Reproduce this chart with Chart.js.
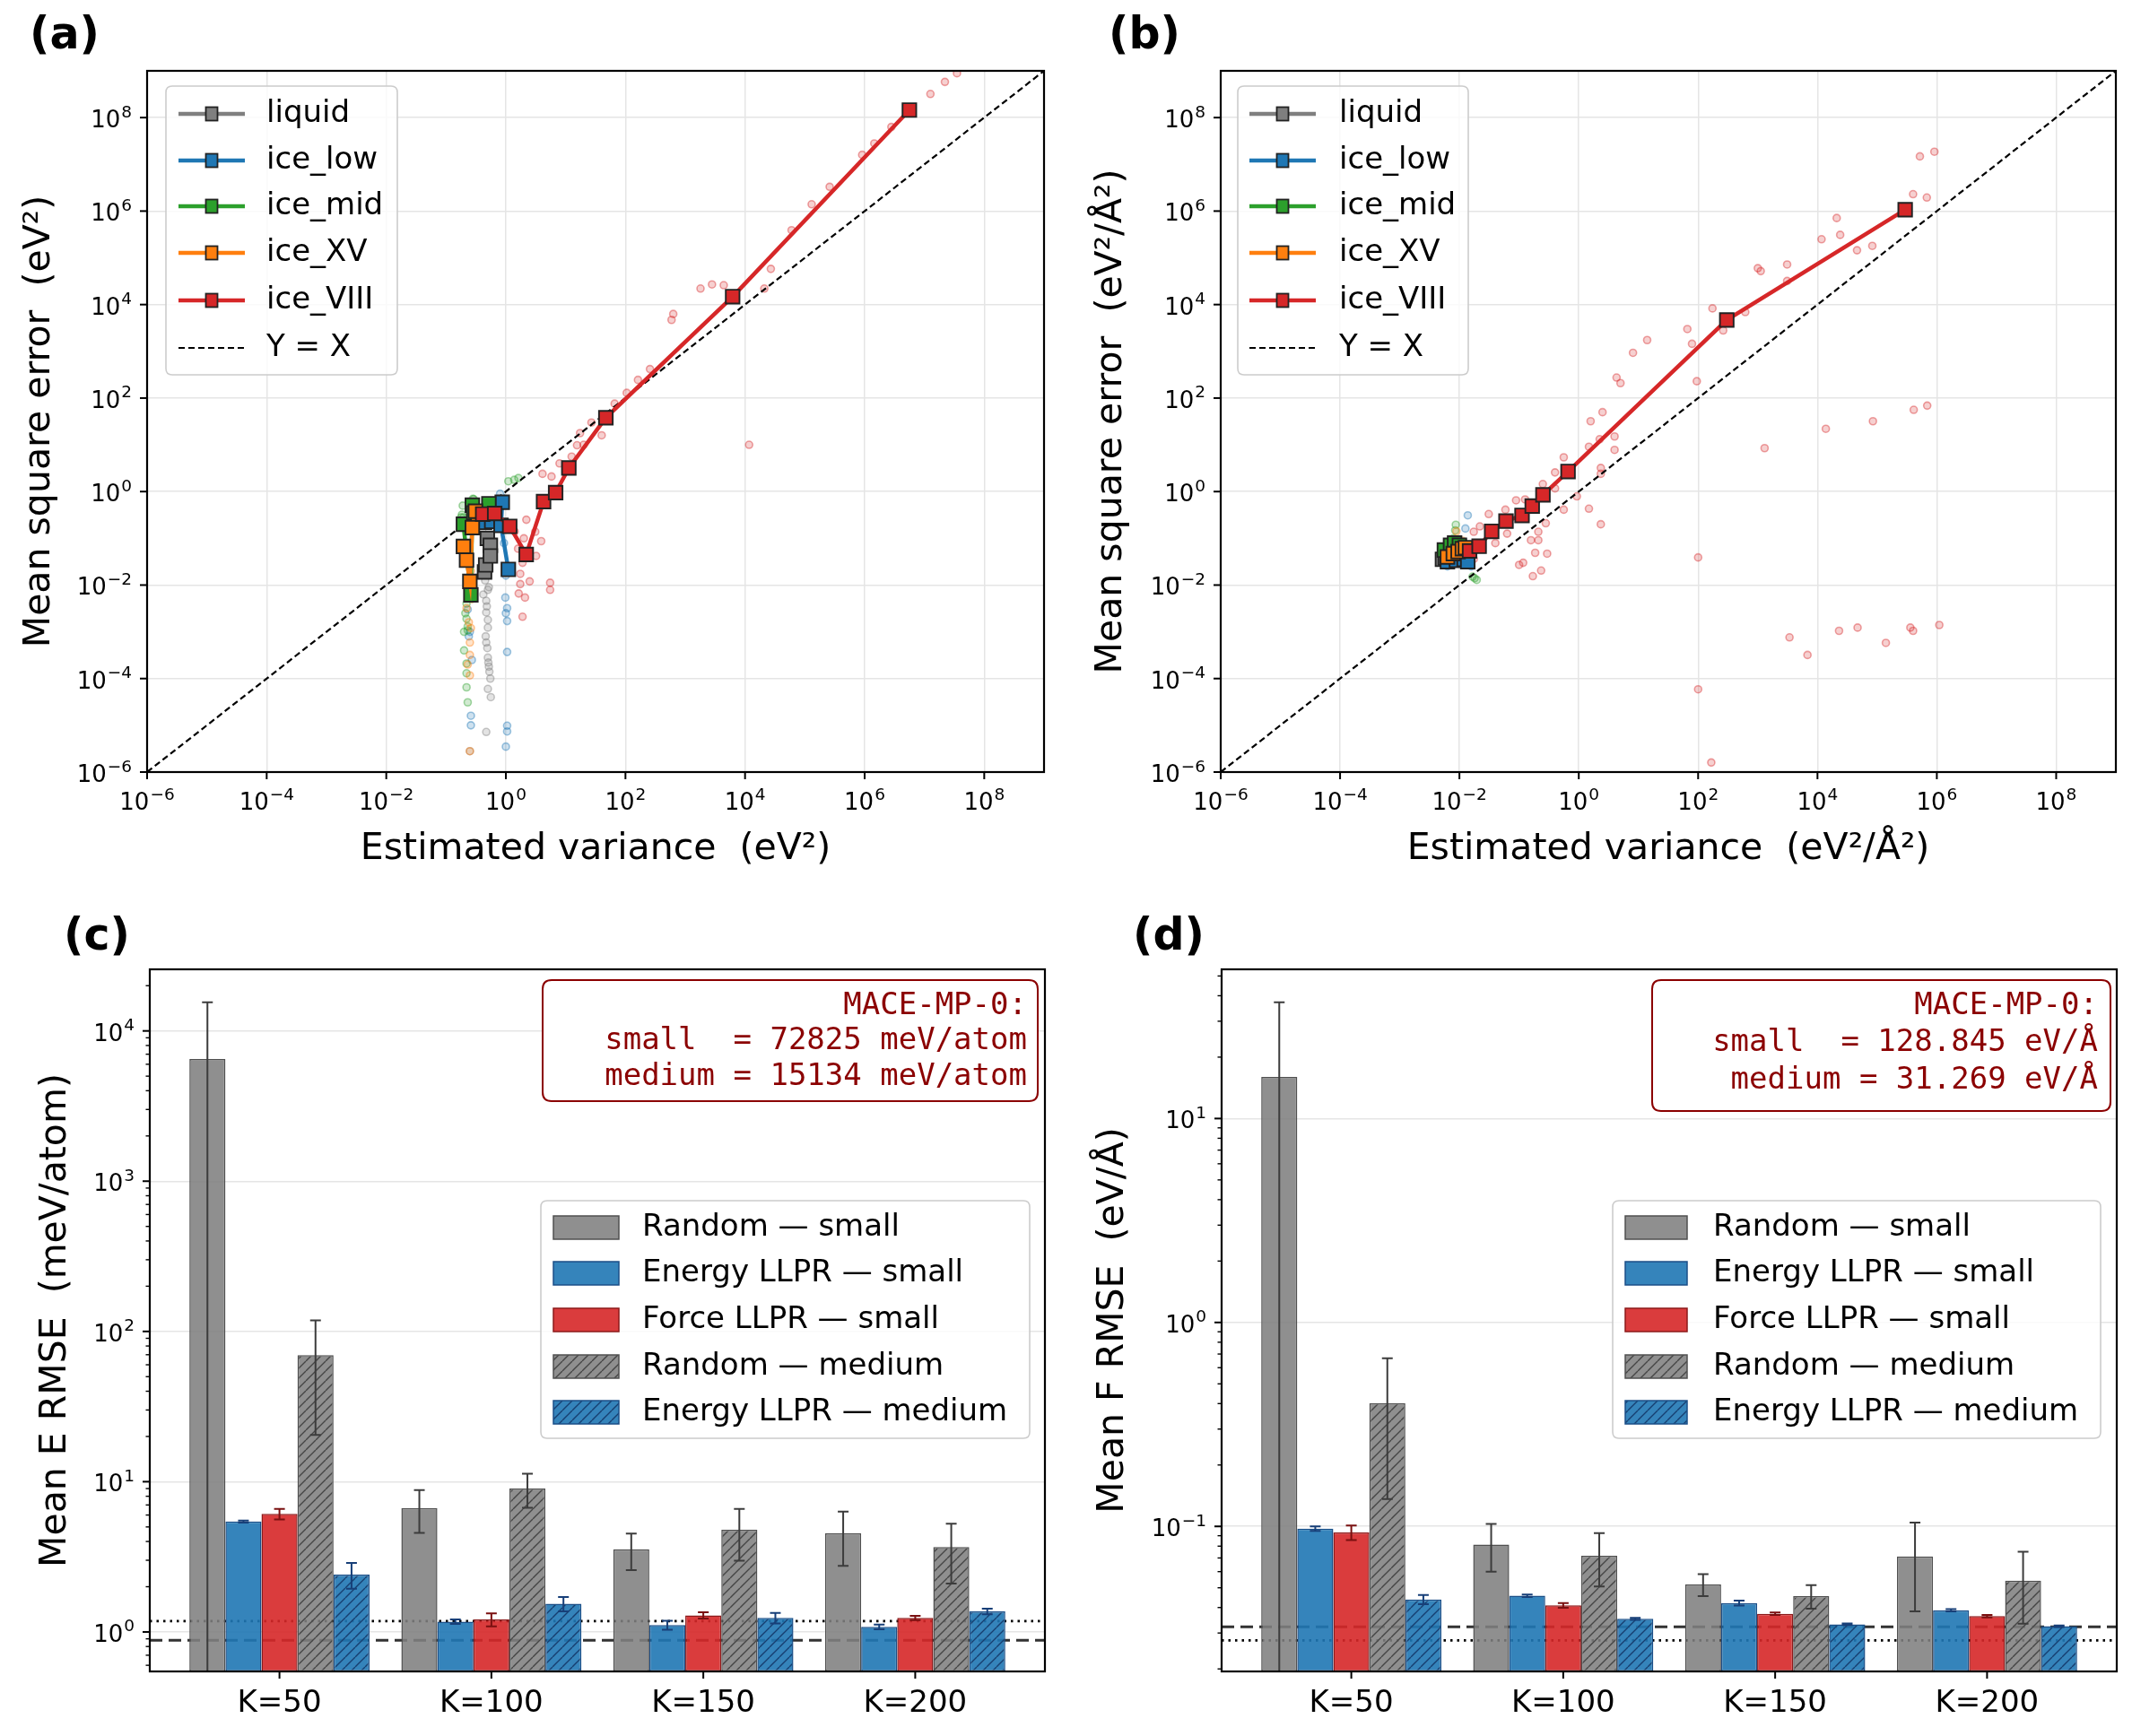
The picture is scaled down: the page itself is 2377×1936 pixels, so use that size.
<!DOCTYPE html>
<html><head><meta charset="utf-8">
<script src="https://cdn.jsdelivr.net/npm/chart.js@4.4.1/dist/chart.umd.min.js"></script>
<style>
html,body{margin:0;padding:0;background:#fff}
body{width:2377px;height:1936px;position:relative;overflow:hidden}
canvas{position:absolute;display:block}
</style></head><body>
<canvas id="pa" width="1188" height="968" style="left:0;top:0"></canvas>
<canvas id="pb" width="1189" height="968" style="left:1188px;top:0"></canvas>
<canvas id="pc" width="1188" height="968" style="left:0;top:968px"></canvas>
<canvas id="pd" width="1189" height="968" style="left:1188px;top:968px"></canvas>
<script>
// ---------------- DATA ----------------
const seriesNames = ['liquid', 'ice_low', 'ice_mid', 'ice_XV', 'ice_VIII'];
const seriesColors = ['#7f7f7f', '#1f77b4', '#2ca02c', '#ff7f0e', '#d62728'];
const scatterTickExps = [-6, -4, -2, 0, 2, 4, 6, 8];
const scatterRange = [1e-6, 1e9];

// Panel (a): binned means (estimated variance, MSE) in eV^2
const aLiquidX = [0.44, 0.46, 0.49, 0.55, 0.55];
const aLiquidY = [0.019, 0.027, 0.10, 0.071, 0.042];
const aIceLowX = [0.44, 0.58, 0.87, 0.83, 1.10];
const aIceLowY = [0.22, 0.23, 0.59, 0.19, 0.0216];
const aIceMidX = [0.195, 0.26, 0.275, 0.29, 0.52];
const aIceMidY = [0.20, 0.0062, 0.51, 0.35, 0.55];
const aIceXVX = [0.195, 0.22, 0.25, 0.275, 0.31];
const aIceXVY = [0.067, 0.034, 0.012, 0.17, 0.38];
const aIceVIIIX = [0.41, 0.65, 1.16, 2.19, 4.27, 6.8, 11.3, 47, 6200, 5.6e6];
const aIceVIIIY = [0.33, 0.34, 0.18, 0.045, 0.61, 0.95, 3.2, 38, 14800, 1.45e8];

// Panel (a): individual points [variance, mse]
const aCloudLiquid = [[0.47,0.0046],[0.47,0.0026],[0.5,0.00123],[0.47,5.9e-4],[0.5,2.8e-4],[0.52,1.8e-4],[0.55,1.0e-4],[0.56,4.0e-5],[0.47,7.2e-6],[0.25,2.8e-6],[0.45,0.0126],[0.5,0.0079],[0.42,0.0063],[0.52,0.025],[0.5,0.06],[0.46,0.035],[0.48,0.0035],[0.5,0.0018],[0.46,8e-4],[0.49,4.5e-4],[0.51,2.2e-4],[0.53,1.4e-4],[0.5,6e-5],[0.45,0.018],[0.52,0.009],[0.48,0.04]];
const aCloudIceLow = [[0.98,0.0054],[1.05,0.0032],[1.05,0.0017],[1.05,3.7e-4],[1.05,9.8e-6],[1.05,7.4e-6],[1.0,3.5e-6],[0.26,1.6e-5],[0.26,1.0e-5],[0.79,0.7],[0.89,0.5],[0.93,0.079],[0.45,0.25],[0.25,0.001],[1.0,0.016],[0.8,0.9],[0.23,0.003],[0.24,8e-4],[0.27,2.5e-4],[1.0,0.0025]];
const aCloudIceMid = [[1.1,1.66],[1.38,1.78],[1.62,1.95],[0.184,0.32],[0.22,0.0019],[0.23,0.00107],[0.22,2.1e-4],[0.22,6.5e-5],[0.23,3.1e-5],[0.19,0.5],[0.22,0.004],[0.2,0.001],[0.28,0.7],[0.178,0.28],[0.195,0.28],[0.29,0.69],[0.21,0.0025],[0.23,0.0013],[0.2,4e-4],[0.22,1.3e-4],[0.24,0.01],[0.2,0.03]];
const aCloudIceXV = [[0.25,1.17e-4],[0.25,5.9e-4],[0.25,3.2e-4],[0.25,2.8e-6],[0.22,0.0032],[0.24,0.0016],[0.28,0.5],[0.21,0.063],[0.23,0.008],[0.26,0.02],[0.26,0.0012],[0.23,2e-4],[0.27,0.005]];
const aCloudIceVIII = [[1.74,0.0174],[1.74,0.0105],[1.64,0.0066],[2.09,0.0054],[1.9,0.0021],[5.5,0.0112],[5.5,0.0079],[3.9,0.087],[3.2,0.042],[3.1,0.138],[4.1,2.4],[5.8,2.1],[15.5,9.8],[17.4,17.8],[7.9,4.0],[2.2,0.25],[2.0,0.1],[1.4,0.14],[3.5e7,8.9e8],[2.2e7,5.8e8],[1.26e7,3.2e8],[2.8e6,6.3e7],[1.45e6,2.8e7],[9.1e5,1.6e7],[2.6e5,3.3e6],[1.3e5,1.4e6],[6.0e4,3.9e5],[2.7e4,5.8e4],[2.1e4,2.2e4],[4.4e3,2.6e4],[2.8e3,2.7e4],[1.8e3,2.2e4],[630,6300],[590,4700],[257,417],[162,245],[105,129],[66,76],[27,30],[1.17e4,10],[40,16],[12.6,5.6],[20,10],[1.9,0.03],[2.5,0.012],[1.6,0.06]];

// Panel (b): binned means in eV^2/A^2
const bLiquidX = [0.0052, 0.0058, 0.0063, 0.0071];
const bLiquidY = [0.0355, 0.038, 0.0417, 0.0447];
const bIceLowX = [0.0063, 0.0089, 0.012, 0.0138];
const bIceLowY = [0.0316, 0.0339, 0.0355, 0.0316];
const bIceMidX = [0.0056, 0.0071, 0.0083, 0.010];
const bIceMidY = [0.056, 0.071, 0.079, 0.071];
const bIceXVX = [0.0063, 0.0079, 0.0095, 0.0112, 0.0126];
const bIceXVY = [0.040, 0.047, 0.052, 0.060, 0.063];
const bIceVIIIX = [0.0148, 0.0214, 0.0347, 0.0603, 0.112, 0.166, 0.251, 0.661, 302, 2.95e5];
const bIceVIIIY = [0.0537, 0.0676, 0.141, 0.234, 0.309, 0.490, 0.851, 2.69, 4680, 1.07e6];

const bCloudLiquid = [[0.0063,0.05],[0.005,0.0316],[0.0058,0.045]];
const bCloudIceLow = [[0.0138,0.31],[0.0126,0.162],[0.0063,0.025],[0.0158,0.025]];
const bCloudIceMid = [[0.0195,0.0129],[0.0166,0.0151],[0.0087,0.195],[0.0085,0.148],[0.018,0.014],[0.0079,0.1]];
const bCloudIceXV = [[0.0089,0.141],[0.0112,0.089]];
const bCloudIceVIII = [[0.56,5.4],[1.48,9.1],[2.24,13.2],[3.98,15.1],[3.98,7.8],[2.34,3.2],[2.34,2.4],[0.93,0.79],[0.56,0.41],[1.48,0.43],[2.34,0.20],[0.28,0.21],[0.21,0.138],[0.158,0.091],[0.21,0.091],[0.186,0.049],[0.295,0.047],[0.1,0.027],[0.117,0.030],[0.17,0.0155],[0.234,0.0204],[0.089,0.65],[0.126,0.68],[0.059,0.41],[0.031,0.33],[0.022,0.18],[0.0174,0.138],[0.0174,0.036],[0.40,2.57],[0.25,1.45],[0.40,1.17],[0.04,0.079],[0.063,0.126],[5.2e5,1.48e7],[9.1e5,1.86e7],[4.0e5,2.3e6],[6.8e5,1.95e6],[2.1e4,7.1e5],[2.4e4,3.1e5],[1.17e4,2.5e5],[4.6e4,1.45e5],[8.3e4,1.8e5],[3.1e3,7.2e4],[1.0e3,6.0e4],[1.12e3,5.2e4],[174,8300],[617,6900],[263,2800],[66,3000],[14,1740],[8.1,930],[4.3,275],[95,229],[3.1e3,3.2e4],[4.1e5,56],[6.9e5,69],[8.5e4,32],[1.38e4,22],[1.3e3,8.5],[100,0.039],[100,5.9e-5],[166,1.6e-6],[3.4e3,7.6e-4],[6.8e3,3.2e-4],[2.3e4,1.05e-3],[4.7e4,1.23e-3],[1.4e5,5.8e-4],[3.6e5,1.23e-3],[4.0e5,1.05e-3],[1.1e6,1.4e-3],[79,1450],[5.0,209],[1.58,32],[2.5,50]];

// Panels (c), (d): bar data
const kLabels = ['K=50', 'K=100', 'K=150', 'K=200'];
const kPos = [0, 1, 2, 3];
const barLabels = ['Random \u2014 small', 'Energy LLPR \u2014 small', 'Force LLPR \u2014 small', 'Random \u2014 medium', 'Energy LLPR \u2014 medium'];

const cRandomSmall = [6500, 6.68, 3.55, 4.54];
const cRandomSmallErr = [9000, 2.12, 0.97, 1.79];
const cEnergySmall = [5.43, 1.17, 1.11, 1.08];
const cEnergySmallErr = [0.08, 0.04, 0.075, 0.04];
const cForceSmall = [6.1, 1.21, 1.29, 1.24];
const cForceSmallErr = [0.5, 0.12, 0.06, 0.04];
const cRandomMedium = [69.5, 9.0, 4.78, 3.68];
const cRandomMediumErr = [49, 2.3, 1.8, 1.58];
const cEnergyMedium = [2.41, 1.54, 1.24, 1.37];
const cEnergyMediumErr = [0.47, 0.17, 0.1, 0.06];
const cRefLines = [1.18, 0.88];          // dotted, dashed
const cRange = [0.546, 25700];
const cNote = ['MACE-MP-0:', 'small  = 72825 meV/atom', 'medium = 15134 meV/atom'];

const dRandomSmall = [16.0, 0.0814, 0.0519, 0.0713];
const dRandomSmallErr = [21.2, 0.0215, 0.0064, 0.033];
const dEnergySmall = [0.0976, 0.0457, 0.0421, 0.0388];
const dEnergySmallErr = [0.0025, 0.0006, 0.0012, 0.0005];
const dForceSmall = [0.0934, 0.0410, 0.0373, 0.0363];
const dForceSmallErr = [0.0077, 0.0011, 0.0005, 0.0005];
const dRandomMedium = [0.402, 0.0717, 0.0455, 0.0542];
const dRandomMediumErr = [0.266, 0.021, 0.006, 0.0209];
const dEnergyMedium = [0.0438, 0.0352, 0.0331, 0.0324];
const dEnergyMediumErr = [0.0023, 0.0004, 0.0003, 0.0003];
const dRefLines = [0.0276, 0.0322];      // dotted, dashed
const dRange = [0.01944, 53.9];
const dNote = ['MACE-MP-0:', 'small  = 128.845 eV/\u00C5', 'medium = 31.269 eV/\u00C5'];

// ---------------- HELPERS ----------------
Chart.defaults.font.family = "'DejaVu Sans', sans-serif";
Chart.defaults.color = '#000';
Chart.defaults.animation = false;
const FONT = "'DejaVu Sans', sans-serif";
function expOf(v) { return Math.round(Math.log10(v)); }
function rgba(hex, a) {
  const n = parseInt(hex.slice(1), 16);
  return `rgba(${(n >> 16) & 255},${(n >> 8) & 255},${n & 255},${a})`;
}
function roundRect(ctx, x0, y0, x1, y1, r) {
  ctx.beginPath();
  ctx.moveTo(x0 + r, y0); ctx.lineTo(x1 - r, y0); ctx.quadraticCurveTo(x1, y0, x1, y0 + r);
  ctx.lineTo(x1, y1 - r); ctx.quadraticCurveTo(x1, y1, x1 - r, y1);
  ctx.lineTo(x0 + r, y1); ctx.quadraticCurveTo(x0, y1, x0, y1 - r);
  ctx.lineTo(x0, y0 + r); ctx.quadraticCurveTo(x0, y0, x0 + r, y0);
  ctx.closePath();
}
function pts(xs, ys) { return xs.map((x, i) => ({x: x, y: ys[i]})); }
function cloud(arr) { return arr.map(p => ({x: p[0], y: p[1]})); }

// draws "10" with a raised exponent; align: 'center' or 'right'; y is baseline of "10"
const BASE_PX = 26, SUP_PX = 18.5, SUP_RISE = 11.5;
function drawPow(ctx, v, x, baseY, align) {
  const e = expOf(v);
  const supTxt = (e < 0 ? '\u2212' : '') + Math.abs(e);
  ctx.font = `${BASE_PX}px ${FONT}`;
  const wb = ctx.measureText('10').width;
  ctx.font = `${SUP_PX}px ${FONT}`;
  const ws = ctx.measureText(supTxt).width;
  const total = wb + ws + 1;
  const x0 = align === 'center' ? x - total / 2 : x - total;
  ctx.textAlign = 'left'; ctx.textBaseline = 'alphabetic'; ctx.fillStyle = '#000';
  ctx.font = `${BASE_PX}px ${FONT}`;
  ctx.fillText('10', x0, baseY);
  ctx.font = `${SUP_PX}px ${FONT}`;
  ctx.fillText(supTxt, x0 + wb + 1, baseY - SUP_RISE);
}

function framePlugin(powX, powY) {
  return {
    id: 'frame',
    afterDraw(chart) {
      const {ctx, chartArea: a} = chart;
      const xs = chart.scales.x, ys = chart.scales.y;
      ctx.save();
      ctx.strokeStyle = '#000';
      for (const t of ys.ticks) {
        const y = ys.getPixelForValue(t.value);
        if (y < a.top - 0.5 || y > a.bottom + 0.5) continue;
        const L = t.major ? 8 : 4.5;
        ctx.lineWidth = t.major ? 2 : 1.4;
        ctx.beginPath(); ctx.moveTo(a.left, y); ctx.lineTo(a.left - L, y); ctx.stroke();
        if (powY && t.major) drawPow(ctx, t.value, a.left - 17, y + 11, 'right');
      }
      for (const t of xs.ticks) {
        const x = xs.getPixelForValue(t.value);
        if (x < a.left - 0.5 || x > a.right + 0.5) continue;
        ctx.lineWidth = 2;
        ctx.beginPath(); ctx.moveTo(x, a.bottom); ctx.lineTo(x, a.bottom + 8); ctx.stroke();
        if (powX) drawPow(ctx, t.value, x, a.bottom + 42, 'center');
      }
      ctx.lineWidth = 2.2;
      ctx.strokeRect(a.left, a.top, a.right - a.left, a.bottom - a.top);
      ctx.restore();
    }
  };
}
function panelLabel(text, x, y) {
  return {
    id: 'plabel',
    afterDraw(chart) {
      const ctx = chart.ctx;
      ctx.save();
      ctx.font = `bold 49px ${FONT}`;
      ctx.fillStyle = '#000';
      ctx.textBaseline = 'middle';
      ctx.textAlign = 'left';
      ctx.fillText(text, x, y);
      ctx.restore();
    }
  };
}
function scatterLegend(spec) {
  return {
    id: 'slegend',
    afterDraw(chart) {
      const ctx = chart.ctx;
      ctx.save();
      roundRect(ctx, spec.box[0], spec.box[1], spec.box[2], spec.box[3], 7);
      ctx.fillStyle = 'rgba(255,255,255,0.8)'; ctx.fill();
      ctx.strokeStyle = '#cccccc'; ctx.lineWidth = 1.6; ctx.stroke();
      ctx.font = `34px ${FONT}`;
      ctx.textBaseline = 'middle'; ctx.textAlign = 'left';
      spec.entries.forEach((e, i) => {
        const y = spec.rows[i];
        ctx.beginPath();
        ctx.moveTo(spec.lineX[0], y); ctx.lineTo(spec.lineX[1], y);
        if (e.dash) { ctx.setLineDash([7, 4]); ctx.lineWidth = 2.2; ctx.strokeStyle = '#000'; }
        else { ctx.setLineDash([]); ctx.lineWidth = 4.5; ctx.strokeStyle = e.color; }
        ctx.stroke();
        ctx.setLineDash([]);
        if (!e.dash) {
          const mx = (spec.lineX[0] + spec.lineX[1]) / 2;
          ctx.fillStyle = e.color; ctx.fillRect(mx - 6.5, y - 7.5, 13, 15);
          ctx.strokeStyle = '#222'; ctx.lineWidth = 1.8; ctx.strokeRect(mx - 6.5, y - 7.5, 13, 15);
        }
        ctx.fillStyle = '#000';
        ctx.fillText(e.label, spec.textX, y);
      });
      ctx.restore();
    }
  };
}

function makeScatter(id, lines, clouds, opts) {
  const datasets = [];
  clouds.forEach((c, i) => datasets.push({
    data: cloud(c), showLine: false, pointRadius: 4, pointHoverRadius: 4,
    pointBackgroundColor: rgba(seriesColors[i], 0.22), pointBorderColor: rgba(seriesColors[i], 0.42),
    pointBorderWidth: 1.6, order: 30 - i, clip: 0
  }));
  datasets.push({
    data: [{x: scatterRange[0], y: scatterRange[0]}, {x: scatterRange[1], y: scatterRange[1]}],
    showLine: true, borderColor: '#000', borderWidth: 2.2, borderDash: [7, 4], pointRadius: 0, order: 8, clip: 0
  });
  lines.forEach((l, i) => datasets.push({
    data: pts(l[0], l[1]), showLine: true, borderColor: seriesColors[i], borderWidth: 4.5,
    pointStyle: 'rect', pointRadius: 10.8, pointHoverRadius: 10.8,
    pointBackgroundColor: seriesColors[i], pointBorderColor: '#222', pointBorderWidth: 1.9,
    order: 6 - i, clip: 0
  }));
  const axis = (title, isX, pad) => ({
    type: 'logarithmic', min: scatterRange[0], max: scatterRange[1],
    afterBuildTicks: s => { s.ticks = scatterTickExps.map(e => ({value: Number('1e' + e), major: true})); },
    afterFit: s => { if (isX) s.height = opts.xh; else s.width = opts.yw; },
    ticks: { display: false, autoSkip: false },
    grid: { color: '#e5e5e5', lineWidth: 1.5, drawTicks: false },
    border: { display: false },
    title: { display: true, text: title, font: {size: 41, lineHeight: 1.0}, padding: isX ? {top: 0, bottom: 0} : {top: pad, bottom: 0}, color: '#000' }
  });
  return new Chart(document.getElementById(id), {
    type: 'scatter',
    data: { datasets },
    options: {
      responsive: false, animation: false, events: [],
      layout: { padding: { left: 0, top: opts.top, right: opts.right, bottom: 0 } },
      plugins: { legend: {display: false}, tooltip: {enabled: false} },
      scales: { x: axis(opts.xTitle, true, 0), y: axis(opts.yTitle, false, opts.yPad) }
    },
    plugins: [framePlugin(true, true), panelLabel(opts.label, opts.lx, opts.ly), scatterLegend(opts.legend)]
  });
}

const legendEntries = seriesNames.map((n, i) => ({label: n, color: seriesColors[i]})).concat([{label: 'Y = X', dash: true}]);

makeScatter('pa',
  [[aLiquidX, aLiquidY], [aIceLowX, aIceLowY], [aIceMidX, aIceMidY], [aIceXVX, aIceXVY], [aIceVIIIX, aIceVIIIY]],
  [aCloudLiquid, aCloudIceLow, aCloudIceMid, aCloudIceXV, aCloudIceVIII],
  { xh: 107, yw: 164, top: 79, right: 24, yPad: 24,
    xTitle: 'Estimated variance  (eV\u00B2)', yTitle: 'Mean square error  (eV\u00B2)',
    label: '(a)', lx: 33, ly: 41,
    legend: { box: [185, 96, 443, 418], rows: [127, 179, 230, 282, 335, 388], lineX: [199, 273], textX: 297, entries: legendEntries } });

makeScatter('pb',
  [[bLiquidX, bLiquidY], [bIceLowX, bIceLowY], [bIceMidX, bIceMidY], [bIceXVX, bIceXVY], [bIceVIIIX, bIceVIIIY]],
  [bCloudLiquid, bCloudIceLow, bCloudIceMid, bCloudIceXV, bCloudIceVIII],
  { xh: 107, yw: 173, top: 79, right: 18, yPad: 31,
    xTitle: 'Estimated variance  (eV\u00B2/\u00C5\u00B2)', yTitle: 'Mean square error  (eV\u00B2/\u00C5\u00B2)',
    label: '(b)', lx: 48, ly: 41,
    legend: { box: [192, 96, 449, 418], rows: [127, 179, 230, 282, 335, 388], lineX: [205, 279], textX: 305, entries: legendEntries } });

// ---------------- BAR PANELS ----------------
function hatch(base, line) {
  const c = document.createElement('canvas'); c.width = 11; c.height = 11;
  const g = c.getContext('2d');
  g.fillStyle = base; g.fillRect(0, 0, 11, 11);
  g.strokeStyle = line; g.lineWidth = 1.4;
  g.beginPath();
  for (const o of [-11, 0, 11]) { g.moveTo(o, 11); g.lineTo(o + 11, 0); }
  g.stroke();
  return g.createPattern(c, 'repeat');
}
const grayFill = 'rgba(127,127,127,0.88)', blueFill = 'rgba(31,119,180,0.9)', redFill = 'rgba(214,39,40,0.9)';
const grayEdge = '#505050', blueEdge = '#1b4f88', redEdge = '#8c1a1a';
const barFills = [grayFill, blueFill, redFill, hatch(grayFill, '#454545'), hatch(blueFill, '#173f70')];
const barEdges = [grayEdge, blueEdge, redEdge, grayEdge, blueEdge];
const errColors = ['#3c3c3c', '#173f78', '#7a1010', '#3c3c3c', '#173f78'];

function errorBars(vals, errs) {
  return {
    id: 'errbars',
    afterDatasetsDraw(chart) {
      const {ctx, chartArea: a} = chart; const ys = chart.scales.y;
      ctx.save();
      ctx.beginPath(); ctx.rect(a.left, a.top, a.right - a.left, a.bottom - a.top); ctx.clip();
      vals.forEach((vs, i) => {
        const meta = chart.getDatasetMeta(i);
        ctx.strokeStyle = errColors[i]; ctx.lineWidth = 2;
        meta.data.forEach((el, j) => {
          const v = vs[j], e = errs[i][j];
          const yHi = ys.getPixelForValue(v + e);
          const lo = v - e;
          const yLo = lo > 0 ? ys.getPixelForValue(lo) : a.bottom + 20;
          ctx.beginPath();
          ctx.moveTo(el.x, yHi); ctx.lineTo(el.x, yLo);
          ctx.moveTo(el.x - 6, yHi); ctx.lineTo(el.x + 6, yHi);
          if (lo > 0) { ctx.moveTo(el.x - 6, yLo); ctx.lineTo(el.x + 6, yLo); }
          ctx.stroke();
        });
      });
      ctx.restore();
    }
  };
}
function refLines(dottedV, dashedV) {
  return {
    id: 'reflines',
    beforeDatasetsDraw(chart) {
      const {ctx, chartArea: a} = chart; const ys = chart.scales.y;
      ctx.save();
      ctx.beginPath(); ctx.rect(a.left, a.top, a.right - a.left, a.bottom - a.top); ctx.clip();
      let y = ys.getPixelForValue(dottedV);
      ctx.strokeStyle = '#000'; ctx.lineWidth = 2.8; ctx.setLineDash([2.5, 5]);
      ctx.beginPath(); ctx.moveTo(a.left, y); ctx.lineTo(a.right, y); ctx.stroke();
      y = ys.getPixelForValue(dashedV);
      ctx.strokeStyle = 'rgba(0,0,0,0.8)'; ctx.lineWidth = 3; ctx.setLineDash([14, 7]);
      ctx.beginPath(); ctx.moveTo(a.left, y); ctx.lineTo(a.right, y); ctx.stroke();
      ctx.restore();
    }
  };
}
function noteBox(lines, box, rightX, ys) {
  return {
    id: 'note',
    afterDraw(chart) {
      const ctx = chart.ctx;
      ctx.save();
      roundRect(ctx, box[0], box[1], box[2], box[3], 10);
      ctx.fillStyle = '#fff'; ctx.fill();
      ctx.strokeStyle = '#8b0000'; ctx.lineWidth = 2; ctx.stroke();
      ctx.font = `34px 'DejaVu Sans Mono', monospace`;
      ctx.fillStyle = '#8b0000'; ctx.textAlign = 'right'; ctx.textBaseline = 'middle';
      lines.forEach((t, i) => ctx.fillText(t, rightX, ys[i]));
      ctx.restore();
    }
  };
}
function barLegend(box, patchX, textX, rows) {
  return {
    id: 'blegend',
    afterDraw(chart) {
      const ctx = chart.ctx;
      ctx.save();
      roundRect(ctx, box[0], box[1], box[2], box[3], 7);
      ctx.fillStyle = 'rgba(255,255,255,0.8)'; ctx.fill();
      ctx.strokeStyle = '#cccccc'; ctx.lineWidth = 1.6; ctx.stroke();
      ctx.font = `34px ${FONT}`; ctx.textBaseline = 'middle'; ctx.textAlign = 'left';
      barLabels.forEach((lab, i) => {
        const y = rows[i];
        ctx.fillStyle = barFills[i];
        ctx.fillRect(patchX[0], y - 13, patchX[1] - patchX[0], 26);
        ctx.strokeStyle = barEdges[i]; ctx.lineWidth = 1.5;
        ctx.strokeRect(patchX[0], y - 13, patchX[1] - patchX[0], 26);
        ctx.fillStyle = '#000';
        ctx.fillText(lab, textX, y);
      });
      ctx.restore();
    }
  };
}

function makeBars(id, vals, errs, range, refs, opts) {
  const datasets = vals.map((vs, i) => ({
    label: barLabels[i], data: pts(kPos, vs), backgroundColor: barFills[i], borderColor: barEdges[i],
    borderWidth: 1.5, borderSkipped: false, categoryPercentage: 0.85, barPercentage: 1.0
  }));
  return new Chart(document.getElementById(id), {
    type: 'bar',
    data: { datasets },
    options: {
      responsive: false, animation: false, events: [],
      layout: { padding: { left: 0, top: opts.top, right: opts.right, bottom: 0 } },
      plugins: { legend: {display: false}, tooltip: {enabled: false} },
      scales: {
        x: {
          type: 'linear', min: -0.612, max: 3.612, offset: false,
          afterBuildTicks: s => { s.ticks = kPos.map(v => ({value: v, major: true})); },
          afterFit: s => { s.height = opts.xh; },
          ticks: { callback: v => kLabels[v], font: {size: 34}, padding: 16, autoSkip: false, maxRotation: 0, color: '#000' },
          grid: { display: false, drawTicks: false, offset: false },
          border: { display: false }
        },
        y: {
          type: 'logarithmic', min: range[0], max: range[1],
          afterBuildTicks: s => {
            const out = [];
            for (let e = Math.floor(Math.log10(s.min)); e <= Math.ceil(Math.log10(s.max)); e++) {
              for (let m = 1; m <= 9; m++) {
                const v = m * Number('1e' + e);
                if (v >= s.min && v <= s.max) out.push({value: v, major: m === 1});
              }
            }
            s.ticks = out;
          },
          afterFit: s => { s.width = opts.yw; },
          ticks: { display: false, autoSkip: false },
          grid: { color: c => (c.tick && c.tick.major) ? '#e5e5e5' : 'rgba(0,0,0,0)', lineWidth: 1.5, drawTicks: false },
          border: { display: false },
          title: { display: true, text: opts.yTitle, font: {size: 41, lineHeight: 1.1}, padding: {top: opts.yPad, bottom: 0}, color: '#000' }
        }
      }
    },
    plugins: [refLines(refs[0], refs[1]), errorBars(vals, errs), framePlugin(false, true), panelLabel(opts.label, opts.lx, opts.ly),
              noteBox(opts.note, opts.noteBox, opts.noteRight, opts.noteYs), barLegend(opts.legBox, opts.patchX, opts.textX, opts.rows)]
  });
}

makeBars('pc',
  [cRandomSmall, cEnergySmall, cForceSmall, cRandomMedium, cEnergyMedium],
  [cRandomSmallErr, cEnergySmallErr, cForceSmallErr, cRandomMediumErr, cEnergyMediumErr],
  cRange, cRefLines,
  { top: 113, right: 23, xh: 72, yw: 167, yPad: 40, yTitle: 'Mean E RMSE  (meV/atom)',
    label: '(c)', lx: 71, ly: 78,
    note: cNote, noteBox: [605, 125, 1157, 260], noteRight: 1145, noteYs: [154, 193, 233],
    legBox: [603, 371, 1148, 636], patchX: [617, 690], textX: 716, rows: [401, 452, 504, 556, 607] });

makeBars('pd',
  [dRandomSmall, dEnergySmall, dForceSmall, dRandomMedium, dEnergyMedium],
  [dRandomSmallErr, dEnergySmallErr, dForceSmallErr, dRandomMediumErr, dEnergyMediumErr],
  dRange, [dRefLines[0], dRefLines[1]],
  { top: 113, right: 17, xh: 72, yw: 174, yPad: 31, yTitle: 'Mean F RMSE  (eV/\u00C5)',
    label: '(d)', lx: 75, ly: 78,
    note: dNote, noteBox: [654, 125, 1165, 271], noteRight: 1151, noteYs: [154, 195, 237],
    legBox: [610, 371, 1154, 636], patchX: [624, 693], textX: 722, rows: [401, 452, 504, 556, 607] });
</script>
</body></html>
